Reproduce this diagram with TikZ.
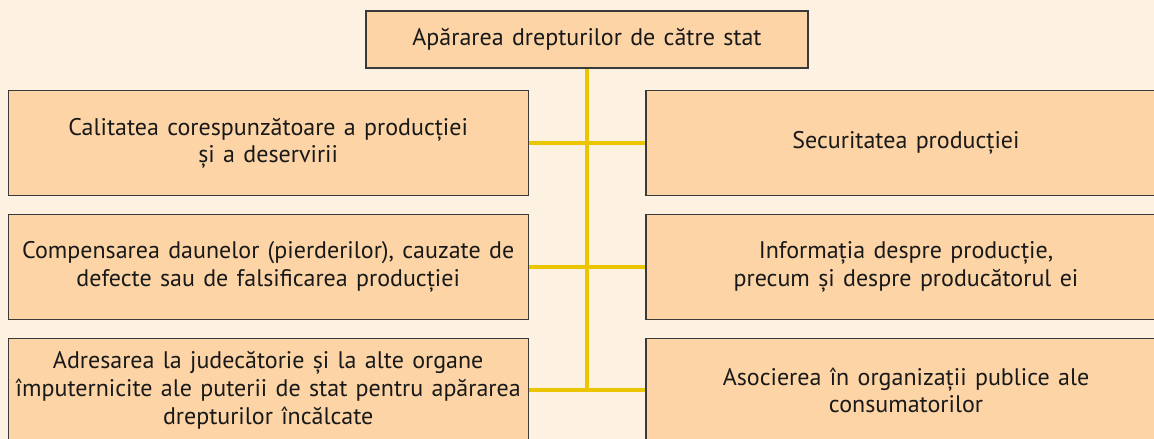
\documentclass[tikz,border=0pt]{standalone}
\usepackage{fontspec}
\setmainfont{PT Sans}[WordSpace={1.3}]
\definecolor{bgc}{HTML}{FDF2E1}
\definecolor{boxc}{HTML}{FCD4A6}
\definecolor{edgec}{HTML}{3A3A3A}
\definecolor{linec}{HTML}{EBC500}
\tikzset{
  box/.style={draw=edgec, line width=1.2pt, fill=boxc, rectangle, align=center,
    inner sep=0pt, font=\fontsize{24}{27.7}\selectfont, text=black!90},
  conn/.style={draw=linec, line width=4.2pt}
}
\begin{document}
\begin{tikzpicture}[x=1pt,y=-1pt]
\useasboundingbox (0,0) rectangle (1154,439);
\fill[bgc] (0,0) rectangle (1154,439);
\node[box, minimum width=442pt, minimum height=57pt] (top) at (587,39.5) {Apărarea drepturilor de către stat};
\node[box, minimum width=520pt, minimum height=105pt] (l1) at (268.2,143.2) {Calitatea corespunzătoare a producției\\și a deservirii};
\node[box, minimum width=520pt, minimum height=105pt] (r1) at (906,143.2) {Securitatea producției};
\node[box, minimum width=520pt, minimum height=105pt] (l2) at (268.2,266.8) {Compensarea daunelor (pierderilor), cauzate de\\defecte sau de falsificarea producției};
\node[box, minimum width=520pt, minimum height=105pt] (r2) at (906,266.8) {Informația despre producție,\\precum și despre producătorul ei};
\node[box, minimum width=520pt, minimum height=104pt] (l3) at (268.2,390.3) {Adresarea la judecătorie și la alte organe\\împuternicite ale puterii de stat pentru apărarea\\drepturilor încălcate};
\node[box, minimum width=520pt, minimum height=104pt] (r3) at (906,390.3) {Asocierea în organizații publice ale\\consumatorilor};
\coordinate (j3) at (587,390.3);
\draw[conn] (top.south) -- (j3);
\draw[conn] (l1.east) -- (r1.west);
\draw[conn] (l2.east) -- (r2.west);
\draw[conn] (l3.east) -- (r3.west);
\end{tikzpicture}
\end{document}
